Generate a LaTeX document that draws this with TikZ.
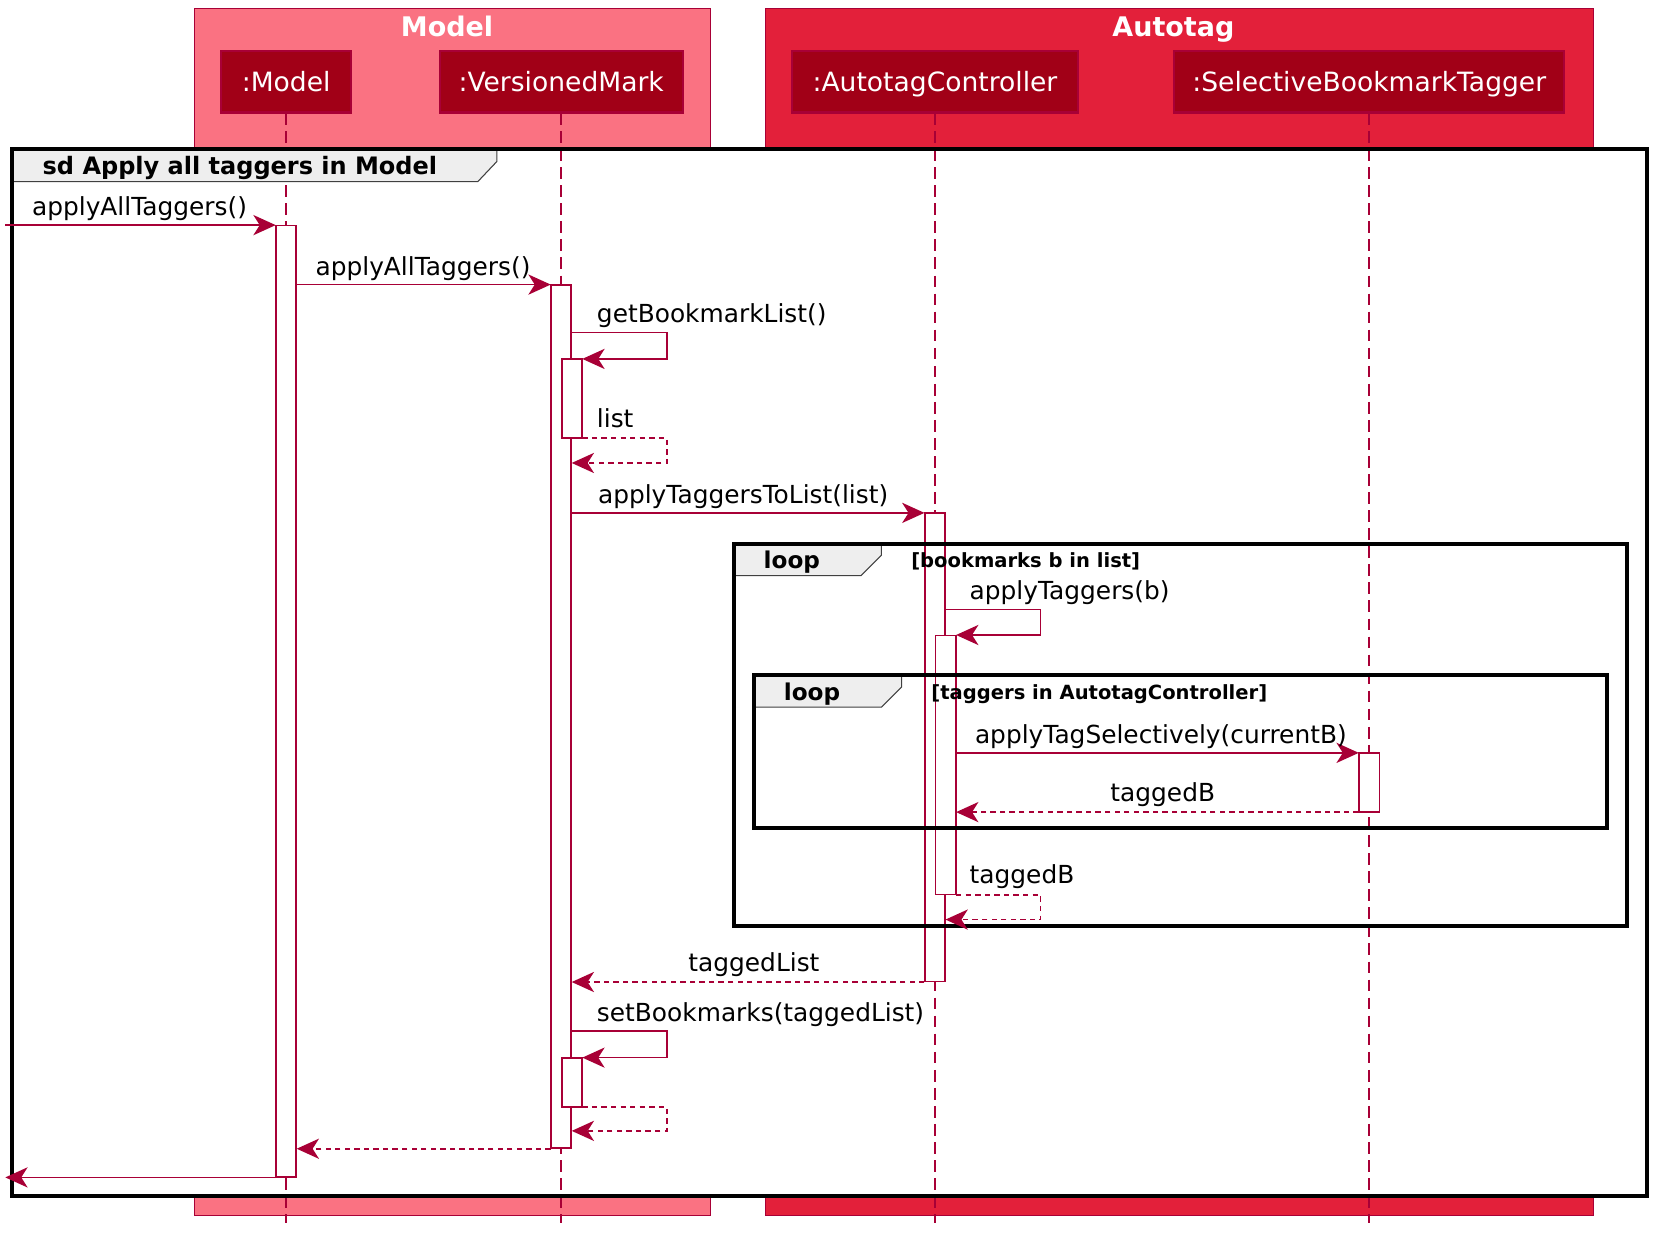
\documentclass[tikz,border=0pt]{standalone}
\usepackage{fontspec}
\setmainfont{DejaVu Sans}
\usetikzlibrary{arrows.meta,positioning,calc}
\definecolor{crimson}{HTML}{A80036}
\definecolor{modelpink}{HTML}{FA7282}
\definecolor{autored}{HTML}{E3203A}
\definecolor{partred}{HTML}{A10017}
\definecolor{tabgray}{HTML}{EEEEEE}
\tikzset{
  groupbox/.style={rectangle, draw=crimson, fill=#1, line width=0.5pt,
    anchor=north west, inner sep=0pt},
  grouptitle/.style={text=white, font=\fontsize{25.4}{30}\selectfont\bfseries,
    anchor=base, inner sep=0pt},
  partbox/.style={rectangle, draw=crimson, fill=partred, line width=1pt,
    text=white, font=\fontsize{25}{30}\selectfont, minimum height=58pt,
    text height=21pt, text depth=3pt, inner sep=0pt},
  lifeline/.style={draw=crimson, line width=0.8pt, dash pattern=on 5.5pt off 3pt},
  actbox/.style={rectangle, draw=crimson, fill=white, line width=0.8pt,
    minimum width=19pt, inner sep=0pt, anchor=north},
  msg/.style={-{Stealth[length=10.5pt,width=9.5pt,inset=3pt]}, draw=crimson,
    line width=0.8pt},
  reply/.style={msg, dash pattern=on 2.5pt off 2pt},
  msglabel/.style={font=\fontsize{23.4}{28}\selectfont, anchor=base west,
    inner sep=0pt},
  sdframe/.style={rectangle, draw=black, line width=1.9pt, anchor=north west,
    inner sep=0pt},
  tabbox/.style={draw=black!75, fill=tabgray, line width=0.5pt},
  tablabel/.style={font=\fontsize{#1}{26}\selectfont\bfseries, anchor=base west,
    inner sep=0pt},
  condlabel/.style={font=\fontsize{18.4}{23}\selectfont\bfseries, anchor=base west,
    inner sep=0pt},
}

\begin{document}
\begin{tikzpicture}[x=1pt, y=1pt, scale=0.5, transform shape]
  \useasboundingbox (0,0) rectangle (1568,-1176);
  \node[groupbox=modelpink, minimum width=486pt, minimum height=1136pt] (gModel) at (183,-8) {};
  \node[groupbox=autored, minimum width=779pt, minimum height=1136pt] (gAuto) at (721,-8) {};
  \node[grouptitle] (tModel) at (421,-34) {Model};
  \node[grouptitle] (tAuto) at (1105,-34) {Autotag};
  \node[partbox, minimum width=122pt] (pM) at (269.5,-77) {:Model};
  \node[partbox, minimum width=229pt] (pV) at (528.5,-77) {:VersionedMark};
  \node[partbox, minimum width=270pt] (pA) at (880.5,-77) {:AutotagController};
  \node[partbox, minimum width=367pt] (pS) at (1289.5,-77) {:SelectiveBookmarkTagger};

  \node[sdframe, draw=none, fill=white, minimum width=1538pt, minimum height=984pt] (fSd) at (11,-140) {};
  \coordinate (bot) at (0,-1152);
  \draw[lifeline] (pM.south) -- (pM.south |- bot);
  \draw[lifeline] (pV.south) -- (pV.south |- bot);
  \draw[lifeline] (pA.south) -- (pA.south |- bot);
  \draw[lifeline] (pS.south) -- (pS.south |- bot);

  \node[actbox, minimum height=896pt] (aM) at (269.5,-212) {};
  \node[actbox, minimum height=813pt] (aV) at (528.5,-268) {};
  \node[actbox, minimum height=74pt] (aV2) at (538.5,-338) {};
  \node[actbox, minimum height=441pt] (aA) at (880.5,-483) {};
  \node[actbox, minimum height=244pt] (aA2) at (890.5,-598) {};
  \node[actbox, minimum height=55pt] (aS) at (1289.5,-709) {};
  \node[actbox, minimum height=46pt] (aV3) at (538.5,-996) {};

  \draw[tabbox] (fSd.north west) -- ++(457,0) -- ++(0,-12) -- ++(-18,-19) -- ++(-439,0) -- cycle;
  \draw[sdframe] (fSd.north west) rectangle (fSd.south east);
  \node[tablabel=22.6] (lSd) at (40,-164) {sd Apply all taggers in Model};

  \coordinate (l1) at (690,-511);
  \draw[tabbox] (l1) -- ++(140,0) -- ++(0,-12) -- ++(-19,-19) -- ++(-121,0) -- cycle;
  \node[sdframe, minimum width=841pt, minimum height=360pt] (fLoop1) at (l1) {};
  \node[tablabel=21.8] (lLoop1) at (719,-535) {loop};
  \node[condlabel] (cLoop1) at (858,-534) {[bookmarks b in list]};
  \coordinate (l2) at (709,-635);
  \draw[tabbox] (l2) -- ++(140,0) -- ++(0,-12) -- ++(-19,-19) -- ++(-121,0) -- cycle;
  \node[sdframe, minimum width=803pt, minimum height=144pt] (fLoop2) at (l2) {};
  \node[tablabel=21.8] (lLoop2) at (738,-660) {loop};
  \node[condlabel] (cLoop2) at (877,-659) {[taggers in AutotagController]};

  \coordinate (in1) at (5,-212);
  \draw[msg] (in1) -- (aM.north west);
  \node[msglabel] (m1) at (30,-203) {applyAllTaggers()};
  \draw[msg] (aM.east |- aV.north) -- (aV.north west);
  \node[msglabel] (m2) at (297,-259) {applyAllTaggers()};
  \coordinate (c1) at (628,-313);
  \draw[msg] (aV.east |- c1) -- (c1) |- (aV2.north east);
  \node[msglabel] (m3) at (562,-304) {getBookmarkList()};
  \coordinate (c2) at (628,-436);
  \draw[reply] (aV2.south east) -| (c2) -- (aV.east |- c2);
  \node[msglabel] (m4) at (562,-403) {list};
  \draw[msg] (aV.east |- aA.north) -- (aA.north west);
  \node[msglabel] (m5) at (563,-474) {applyTaggersToList(list)};
  \coordinate (c3) at (980,-574);
  \draw[msg] (aA.east |- c3) -- (c3) |- (aA2.north east);
  \node[msglabel] (m6) at (913,-565) {applyTaggers(b)};
  \draw[msg] (aA2.east |- aS.north) -- (aS.north west);
  \node[msglabel] (m7) at (918,-700) {applyTagSelectively(currentB)};
  \draw[reply] (aS.south west) -- (aA2.east |- aS.south);
  \node[msglabel, anchor=base] (m8) at (1095,-755) {taggedB};
  \coordinate (c4) at (980,-866);
  \draw[reply] (aA2.south east) -| (c4) -- (aA.east |- c4);
  \node[msglabel] (m9) at (913,-832) {taggedB};
  \draw[reply] (aA.south west) -- (aV.east |- aA.south);
  \node[msglabel, anchor=base] (m10) at (710,-915) {taggedList};
  \coordinate (c5) at (628,-971);
  \draw[msg] (aV.east |- c5) -- (c5) |- (aV3.north east);
  \node[msglabel] (m11) at (562,-962) {setBookmarks(taggedList)};
  \coordinate (c6) at (628,-1065);
  \draw[reply] (aV3.south east) -| (c6) -- (aV.east |- c6);
  \draw[reply] (aV.south west) -- (aM.east |- aV.south);
  \draw[msg] (aM.south west) -- (aM.south west -| in1);
\end{tikzpicture}
\end{document}
